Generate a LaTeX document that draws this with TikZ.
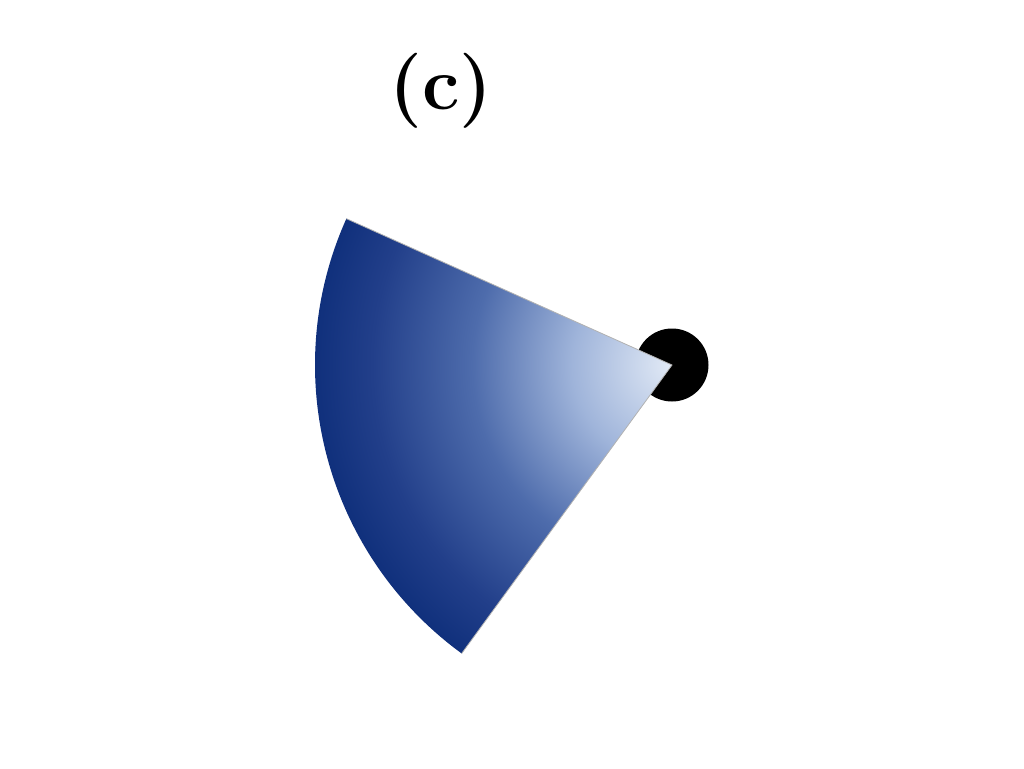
\documentclass[tikz,border=0pt]{standalone}
\usetikzlibrary{calc}
\definecolor{c0}{HTML}{E2EAF6}
\definecolor{c1}{HTML}{9FB4DA}
\definecolor{c2}{HTML}{4E6CAC}
\definecolor{c3}{HTML}{223F8A}
\definecolor{c4}{HTML}{10307C}
\pgfdeclareradialshading{sectshade}{\pgfpoint{0bp}{0bp}}{color(0bp)=(c0); color(7bp)=(c1); color(14bp)=(c2); color(21bp)=(c3); color(25bp)=(c4); color(50bp)=(c4)}
\tikzset{
  lbl/.style={font=\bfseries\fontsize{75}{80}\selectfont, inner sep=0pt},
  dot/.style={fill=black, draw=none},
}
\begin{document}
\begin{tikzpicture}[x=1pt,y=-1pt]
\useasboundingbox (0,0) rectangle (1024,768);
\node[lbl] (title) at (441,91) {(c)};
\coordinate (apex) at (672,365);
\fill[dot] (apex) circle (36.5);
\begin{scope}
  \clip (apex) -- ++(-155.8:357) arc[start angle=-155.8, end angle=-233.9, radius=357] -- cycle;
  \shade[shading=sectshade] (apex) circle (357);
\end{scope}
\draw[gray!60, line width=0.8pt] ($(apex)+(-155.8:357)$) -- (apex) -- ($(apex)+(-233.9:357)$);
\end{tikzpicture}
\end{document}
